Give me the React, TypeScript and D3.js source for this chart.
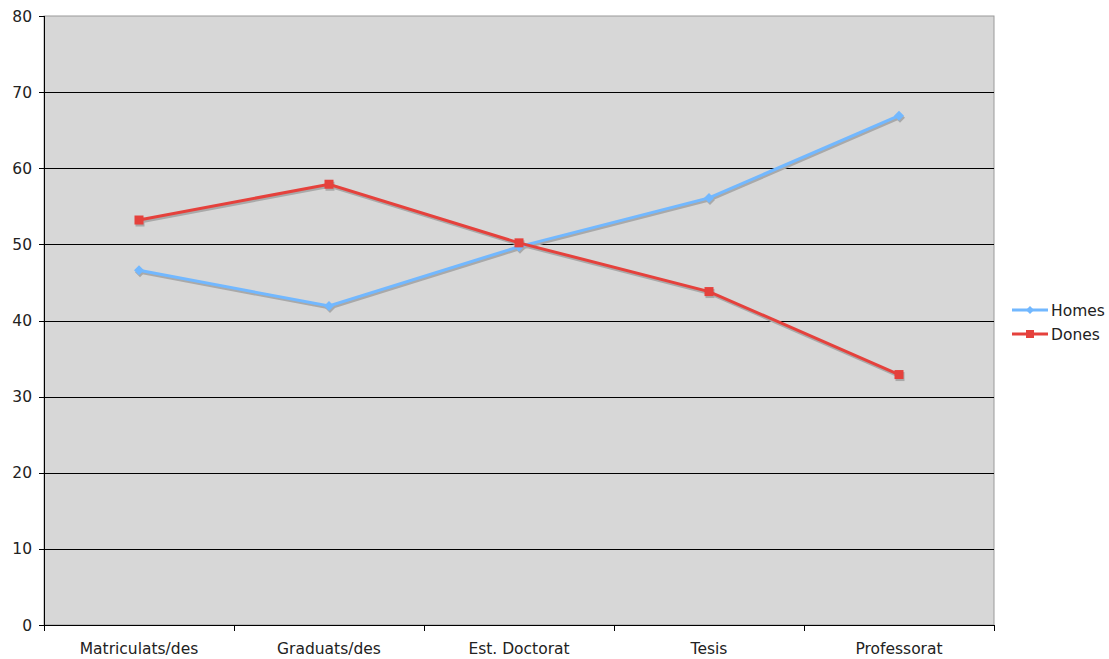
import React from "react";
import * as d3 from "d3";

const categories = ["Matriculats/des", "Graduats/des", "Est. Doctorat", "Tesis", "Professorat"];
const homes = [46.6, 41.9, 49.7, 56.1, 66.9];
const dones = [53.2, 57.9, 50.2, 43.8, 32.9];
const yTicks = [0, 10, 20, 30, 40, 50, 60, 70, 80];

const W = 1109, H = 659;
const left = 44, right = 994, top = 16, bottom = 625;

export default function App() {
  const x = d3.scaleBand<string>().domain(categories).range([left, right]);
  const y = d3.scaleLinear().domain([0, 80]).range([bottom, top]);
  const cx = (c: string) => (x(c) as number) + x.bandwidth() / 2;
  const line = d3.line<[string, number]>().x(d => cx(d[0])).y(d => y(d[1]));
  const hPts: [string, number][] = categories.map((c, i) => [c, homes[i]]);
  const dPts: [string, number][] = categories.map((c, i) => [c, dones[i]]);
  const blue = "#72b8ff";
  const red = "#e5413c";
  const shadow = "#a9a9a9";
  const font = "DejaVu Sans, Verdana, sans-serif";
  const fs = 15.5;
  const boundaries = categories.map(c => x(c) as number).concat([right]);
  const diamond = (px: number, py: number, r: number) =>
    `M${px},${py - r}L${px + r},${py}L${px},${py + r}L${px - r},${py}Z`;

  return (
    <svg width={W} height={H} style={{ position: "absolute", left: 0, top: 0 }}>
      <rect x={0} y={0} width={W} height={H} fill="#ffffff" />
      <rect x={left} y={top} width={right - left} height={bottom - top} fill="#d7d7d7" stroke="#9a9a9a" strokeWidth={1} />
      {yTicks.filter(t => t > 0 && t < 80).map(t => (
        <line key={t} x1={left} x2={right} y1={Math.round(y(t)) + 0.5} y2={Math.round(y(t)) + 0.5} stroke="#000" strokeWidth={1} />
      ))}
      <line x1={left + 0.5} x2={left + 0.5} y1={top} y2={bottom + 5} stroke="#000" />
      <line x1={left - 5} x2={right} y1={bottom + 0.5} y2={bottom + 0.5} stroke="#000" />
      {yTicks.map(t => (
        <g key={t}>
          <line x1={left - 5} x2={left} y1={Math.round(y(t)) + 0.5} y2={Math.round(y(t)) + 0.5} stroke="#000" />
          <text x={left - 12} y={y(t)} dy="0.36em" textAnchor="end" fontFamily={font} fontSize={fs} fill="#222">{t}</text>
        </g>
      ))}
      {boundaries.map((b, i) => (
        <line key={i} x1={Math.round(b) + 0.5} x2={Math.round(b) + 0.5} y1={bottom} y2={bottom + 6} stroke="#000" />
      ))}
      {categories.map(c => (
        <text key={c} x={cx(c)} y={654} textAnchor="middle" fontFamily={font} fontSize={fs} fill="#222">{c}</text>
      ))}
      <g transform="translate(1,2)">
        <path d={line(hPts) || ""} fill="none" stroke={shadow} strokeWidth={3} />
        <path d={line(dPts) || ""} fill="none" stroke={shadow} strokeWidth={3} />
        {hPts.map(([c, v]) => <path key={c} d={diamond(cx(c), y(v), 5)} fill={shadow} />)}
        {dPts.map(([c, v]) => <rect key={c} x={cx(c) - 4.5} y={y(v) - 4.5} width={9} height={9} fill={shadow} />)}
      </g>
      <path d={line(hPts) || ""} fill="none" stroke={blue} strokeWidth={3} />
      {hPts.map(([c, v]) => <path key={c} d={diamond(cx(c), y(v), 5)} fill={blue} />)}
      <path d={line(dPts) || ""} fill="none" stroke={red} strokeWidth={3} />
      {dPts.map(([c, v]) => <rect key={c} x={cx(c) - 4.5} y={y(v) - 4.5} width={9} height={9} fill={red} />)}
      <g>
        <line x1={1012} x2={1048} y1={310} y2={310} stroke={blue} strokeWidth={3} />
        <path d={diamond(1030, 310, 4)} fill={blue} />
        <text x={1051} y={310} dy="0.36em" fontFamily={font} fontSize={fs} fill="#222">Homes</text>
        <line x1={1012} x2={1048} y1={334} y2={334} stroke={red} strokeWidth={3} />
        <rect x={1026} y={330} width={8} height={8} fill={red} />
        <text x={1051} y={334} dy="0.36em" fontFamily={font} fontSize={fs} fill="#222">Dones</text>
      </g>
    </svg>
  );
}
